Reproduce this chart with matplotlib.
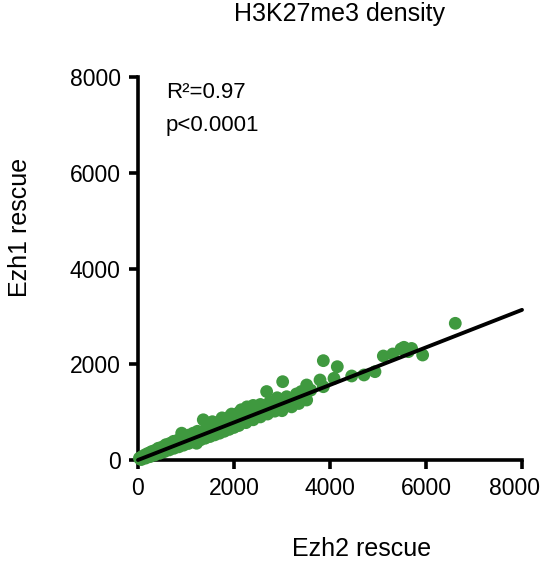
import matplotlib
matplotlib.use("Agg")
import matplotlib.pyplot as plt
import matplotlib.transforms as mtransforms
import numpy as np

plt.rcParams['font.family'] = ['Liberation Sans', 'DejaVu Sans']

# Ezh2 rescue (x) vs Ezh1 rescue (y)
ezh2 = [30, 90, 150, 210, 280, 350, 420, 500, 580, 660, 740, 820, 910, 980,
        1060, 1150, 1240, 1360, 1420, 1500, 1600, 1700, 1800, 1900, 2000, 2100,
        2200, 2270, 2350, 2450, 2550, 2680, 2750, 2900,
        1550, 1750, 1950, 2150, 2400,
        50, 120, 200, 300, 400, 480, 560, 640, 720, 800, 880, 960, 1040, 1120,
        1200, 1280, 1380, 1460, 1560, 1650, 1750, 1850, 1950, 2050, 2150, 2250,
        2380, 2500, 2620, 2780, 2950, 3100,
        70, 160, 250, 350, 450, 550, 650, 750, 850, 950, 1050, 1150, 1220, 1300,
        1400, 1500, 1600, 1700, 1800, 1900, 2000, 2100, 2250, 2400, 2550, 2700,
        2850, 3000, 3200, 3350,
        3014, 3097, 3300, 3400, 3450, 3514, 3514, 3600, 3792, 3861, 3861, 4083,
        4152, 4452, 4708, 4937, 5111, 5306, 5480, 5541, 5632, 5700, 5930, 6610]
ezh1 = [40, 75, 110, 140, 175, 200, 245, 270, 320, 345, 390, 410, 560, 480,
        520, 560, 600, 840, 660, 700, 760, 800, 860, 900, 940, 990,
        1040, 1110, 1080, 1120, 1160, 1430, 1220, 1300,
        800, 880, 960, 1050, 1140,
        20, 50, 80, 115, 155, 190, 215, 250, 280, 310, 345, 375, 405, 440,
        470, 500, 540, 570, 610, 645, 680, 720, 760, 800, 840, 880,
        930, 975, 1020, 1090, 1150, 1210,
        10, 40, 70, 105, 140, 175, 210, 245, 275, 310, 345, 380, 350, 420,
        455, 490, 525, 560, 600, 640, 680, 720, 780, 840, 900, 960,
        1020, 1030, 1110, 1180,
        1636, 1322, 1380, 1430, 1300, 1567, 1253, 1460, 1671, 2075, 1531, 1706,
        1949, 1755, 1776, 1845, 2172, 2214, 2320, 2354, 2263, 2330, 2193, 2855]

# linear fit shown on the chart
fit_slope = 0.392
fit_intercept = 0.0
fit_range = [0, 8000]

fig = plt.figure(figsize=(5.44, 5.68), dpi=100)
ax = fig.add_axes([138 / 544, 1 - 460 / 568, 384 / 544, 383 / 568])

ax.scatter(ezh2, ezh1, s=85, color='#3f993f', edgecolors='none',
           zorder=3, clip_on=False)
xs = np.array(fit_range)
ax.plot(xs, fit_slope * xs + fit_intercept, color='black', lw=2.8,
        zorder=4, clip_on=False, solid_capstyle='round')

ax.set_xlim(0, 8000)
ax.set_ylim(0, 8000)
ax.set_xticks([0, 2000, 4000, 6000, 8000])
ax.set_yticks([0, 2000, 4000, 6000, 8000])

for side in ['top', 'right']:
    ax.spines[side].set_visible(False)
for side in ['left', 'bottom']:
    ax.spines[side].set_linewidth(2.6)
ax.tick_params(axis='both', length=6.5, width=2.6, labelsize=16.5, pad=6,
               color='black')

# last x label sits a bit left of its tick, as in the original
shift = mtransforms.ScaledTranslation(-7 / 100, 0, fig.dpi_scale_trans)
last = ax.get_xticklabels()[-1]
last.set_transform(last.get_transform() + shift)

fig.text(340 / 544, 1 - 14 / 568, 'H3K27me3 density', ha='center',
         va='center', fontsize=18)
fig.text(362 / 544, 1 - 549 / 568, 'Ezh2 rescue', ha='center',
         va='center', fontsize=18)
fig.text(20 / 544, 1 - 227 / 568, 'Ezh1 rescue', ha='center',
         va='center', fontsize=18, rotation=90)

fig.text(166 / 544, 1 - 92 / 568, 'R²=0.97', ha='left', va='center',
         fontsize=16)
fig.text(166 / 544, 1 - 125 / 568, 'p<0.0001', ha='left', va='center',
         fontsize=16)

fig.savefig('out.png', dpi=100)
